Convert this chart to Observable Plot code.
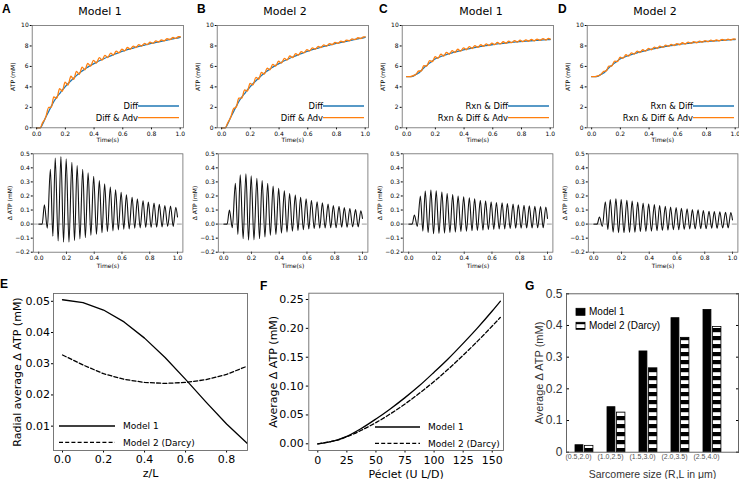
<!DOCTYPE html>
<html><head><meta charset="utf-8">
<script src="https://cdn.jsdelivr.net/npm/d3@7"></script>
<script src="https://cdn.jsdelivr.net/npm/@observablehq/plot@0.6"></script>
<style>
html,body{margin:0;padding:0;background:#fff;}
#fig{position:relative;width:739px;height:479px;overflow:hidden;background:#fff;}
#fig svg{position:absolute;}
</style></head><body><div id="fig"></div>
<script>
// ---------- DATA ----------
// shared time grid (s): start, rise, then peaks/troughs of the oscillation, end
const timeGrid = [0, 0.025, 0.041, 0.062, 0.084, 0.102, 0.119, 0.140, 0.160, 0.179, 0.198, 0.218, 0.239, 0.258, 0.277, 0.297, 0.317, 0.336, 0.356, 0.376, 0.396, 0.416, 0.437, 0.456, 0.475, 0.495, 0.516, 0.535, 0.554, 0.574, 0.594, 0.613, 0.632, 0.652, 0.673, 0.692, 0.711, 0.731, 0.752, 0.771, 0.790, 0.810, 0.831, 0.850, 0.869, 0.889, 0.909, 0.929, 0.950, 0.969, 0.988, 1.0];
// ATP (mM), diffusion only (panels A, B)
const atpDiff = [0, 0, 0.35, 1.0, 1.6, 2.1, 2.55, 3.0, 3.35, 3.7, 4.0, 4.3, 4.6, 4.85, 5.1, 5.33, 5.55, 5.75, 5.93, 6.1, 6.25, 6.4, 6.55, 6.68, 6.8, 6.92, 7.04, 7.15, 7.26, 7.36, 7.46, 7.55, 7.64, 7.72, 7.8, 7.88, 7.95, 8.02, 8.09, 8.16, 8.22, 8.28, 8.34, 8.4, 8.46, 8.52, 8.58, 8.64, 8.7, 8.75, 8.8, 8.85];
// ATP (mM), reaction & diffusion (panels C, D)
const atpRxnDiff = [5.0, 5.0, 5.02, 5.2, 5.35, 5.6, 5.85, 6.1, 6.33, 6.53, 6.72, 6.85, 6.97, 7.07, 7.16, 7.25, 7.33, 7.41, 7.48, 7.55, 7.62, 7.68, 7.74, 7.8, 7.85, 7.9, 7.95, 8.0, 8.04, 8.08, 8.12, 8.16, 8.2, 8.23, 8.26, 8.29, 8.32, 8.35, 8.38, 8.41, 8.43, 8.45, 8.47, 8.49, 8.51, 8.53, 8.55, 8.57, 8.59, 8.61, 8.62, 8.63];
// Delta ATP (mM) = with advection minus without
const dAtpA = [0, 0, 0.137, -0.03, 0.39, -0.086, 0.47, -0.12, 0.48, -0.128, 0.465, -0.128, 0.44, -0.117, 0.417, -0.105, 0.39, -0.096, 0.365, -0.08, 0.34, -0.072, 0.31, -0.062, 0.287, -0.053, 0.263, -0.048, 0.244, -0.041, 0.227, -0.036, 0.208, -0.034, 0.19, -0.03, 0.18, -0.027, 0.168, -0.024, 0.156, -0.024, 0.15, -0.022, 0.14, -0.02, 0.132, -0.017, 0.128, -0.017, 0.12, 0.05];
const dAtpB = [0, 0, 0.10, -0.026, 0.29, -0.073, 0.35, -0.104, 0.357, -0.114, 0.343, -0.112, 0.326, -0.104, 0.31, -0.092, 0.29, -0.08, 0.27, -0.073, 0.254, -0.064, 0.237, -0.057, 0.218, -0.05, 0.206, -0.045, 0.19, -0.04, 0.18, -0.035, 0.17, -0.033, 0.158, -0.03, 0.151, -0.028, 0.142, -0.026, 0.132, -0.026, 0.127, -0.023, 0.118, -0.023, 0.11, -0.02, 0.103, -0.02, 0.094, 0.04];
const dAtpC = [0, 0, 0.065, -0.016, 0.2, -0.05, 0.235, -0.06, 0.242, -0.069, 0.237, -0.066, 0.228, -0.064, 0.218, -0.06, 0.21, -0.057, 0.2, -0.052, 0.194, -0.05, 0.187, -0.047, 0.18, -0.045, 0.17, -0.043, 0.165, -0.04, 0.158, -0.038, 0.153, -0.035, 0.151, -0.034, 0.146, -0.032, 0.142, -0.03, 0.137, -0.03, 0.134, -0.028, 0.13, -0.028, 0.127, -0.026, 0.125, -0.026, 0.122, 0.04];
const dAtpD = [0, 0, 0.05, -0.016, 0.158, -0.04, 0.175, -0.057, 0.18, -0.061, 0.175, -0.061, 0.17, -0.059, 0.163, -0.057, 0.156, -0.054, 0.149, -0.052, 0.144, -0.05, 0.139, -0.047, 0.132, -0.045, 0.127, -0.043, 0.122, -0.04, 0.118, -0.04, 0.113, -0.038, 0.108, -0.035, 0.103, -0.035, 0.101, -0.033, 0.096, -0.033, 0.091, -0.03, 0.089, -0.03, 0.087, -0.028, 0.084, -0.028, 0.082, 0.03];
const timeTicks = [0, 0.2, 0.4, 0.6, 0.8, 1.0];
const atpTicks = [0, 2, 4, 6, 8, 10];
const dAtpTicks = [-0.2, -0.1, 0, 0.1, 0.2, 0.3, 0.4, 0.5];
const panelTitles = ["Model 1", "Model 2", "Model 1", "Model 2"];
const topLegend = [["Diff", "Diff & Adv"], ["Diff", "Diff & Adv"], ["Rxn & Diff", "Rxn & Diff & Adv"], ["Rxn & Diff", "Rxn & Diff & Adv"]];

// Panel E
const zL = [0, 0.1, 0.2, 0.3, 0.4, 0.5, 0.6, 0.7, 0.8, 0.9];
const eModel1 = [0.0505, 0.0496, 0.0472, 0.0434, 0.0382, 0.0320, 0.0250, 0.0177, 0.0107, 0.0045];
const eModel2 = [0.0328, 0.0296, 0.0268, 0.0250, 0.0240, 0.0237, 0.0240, 0.0249, 0.0266, 0.0292];
const zTicks = [0, 0.2, 0.4, 0.6, 0.8];
const eTicks = [0.01, 0.02, 0.03, 0.04, 0.05];

// Panel F
const peclet = [0, 10, 17, 25, 37, 50, 62, 75, 87, 100, 112, 125, 137, 150, 157];
const fModel1 = [0, 0.0035, 0.007, 0.013, 0.026, 0.043, 0.060, 0.080, 0.100, 0.124, 0.147, 0.174, 0.200, 0.230, 0.247];
const fModel2 = [0, 0.0033, 0.0065, 0.0122, 0.023, 0.0367, 0.0514, 0.069, 0.087, 0.108, 0.129, 0.1535, 0.177, 0.204, 0.219];
const pecletTicks = [0, 25, 50, 75, 100, 125, 150];
const fTicks = [0, 0.05, 0.10, 0.15, 0.20, 0.25];

// Panel G
const sizes = ["(0.5,2.0)", "(1.0,2.5)", "(1.5,3.0)", "(2.0,3.5)", "(2.5,4.0)"];
const gModel1 = [0.022, 0.142, 0.318, 0.423, 0.449];
const gModel2 = [0.020, 0.125, 0.265, 0.361, 0.395];
const gTicks = [0, 0.1, 0.2, 0.3, 0.4, 0.5];
const legendNames = ["Model 1", "Model 2 (Darcy)"];

// ---------- DRAW ----------
const fig = document.getElementById("fig");
const DJ = "'DejaVu Sans', sans-serif";
const LS = "'Liberation Sans', Arial, sans-serif";
const FRAME = "#6a6a6a";
const fmt1 = d3.format(".1f"), fmt2 = d3.format(".2f");
const style = f => `background:transparent;overflow:visible;font-family:${f};`;
function put(svg, left, top) {
  svg.style.position = "absolute";
  svg.style.left = left + "px";
  svg.style.top = top + "px";
  fig.appendChild(svg);
}

const offsets = [0, 185, 370, 555];
const atpSeries = [atpDiff, atpDiff, atpRxnDiff, atpRxnDiff];
const dSeries = [dAtpA, dAtpB, dAtpC, dAtpD];

offsets.forEach((x0, k) => {
  const rows = timeGrid.map((t, i) => ({t, base: atpSeries[k][i], adv: atpSeries[k][i] + dSeries[k][i], d: dSeries[k][i]}));
  put(Plot.plot({
    width: 184.5, height: 145, marginLeft: 31.7, marginRight: 1.5, marginTop: 25, marginBottom: 17.7,
    style: style(DJ),
    x: {domain: [-0.031, 1.023]}, y: {domain: [0, 10]},
    marks: [
      Plot.line(rows, {x: "t", y: "base", stroke: "#1f77b4", strokeWidth: 1.3, curve: "monotone-x"}),
      Plot.line(rows, {x: "t", y: "adv", stroke: "#ff7f0e", strokeWidth: 1.3, curve: "monotone-x"}),
      Plot.axisX({ticks: timeTicks, tickFormat: fmt1, tickSize: 2, tickPadding: 1.5, fontSize: 6, label: "Time(s)", labelAnchor: "center", labelOffset: 13.7, labelArrow: false}),
      Plot.axisY({ticks: atpTicks, tickSize: 2, tickPadding: 1.5, fontSize: 6, label: "ATP (mM)", labelAnchor: "center", labelOffset: 21.7, labelArrow: false}),
      Plot.frame({stroke: FRAME, strokeWidth: 0.8})
    ]
  }), x0, 0);
  put(Plot.plot({
    width: 184, height: 140, marginLeft: 32.8, marginRight: 1.6, marginTop: 13.3, marginBottom: 28.3,
    style: style(DJ),
    x: {domain: [-0.039, 1.039]}, y: {domain: [-0.2, 0.5]},
    marks: [
      Plot.ruleY([0], {stroke: "#9a9a9a", strokeWidth: 1, strokeDasharray: "5,3"}),
      Plot.line(rows, {x: "t", y: "d", stroke: "#111", strokeWidth: 1.1, curve: "monotone-x"}),
      Plot.axisX({ticks: timeTicks, tickFormat: fmt1, tickSize: 2, tickPadding: 1.5, fontSize: 6, label: "Time(s)", labelAnchor: "center", labelOffset: 15.5, labelArrow: false}),
      Plot.axisY({ticks: dAtpTicks, tickFormat: fmt1, tickSize: 2, tickPadding: 1.5, fontSize: 6, label: "Δ ATP (mM)", labelAnchor: "center", labelOffset: 25.5, labelArrow: false}),
      Plot.frame({stroke: FRAME, strokeWidth: 0.8})
    ]
  }), x0, 140);
});

// Panel E
const eRows = zL.map((z, i) => ({z, m1: eModel1[i], m2: eModel2[i]}));
put(Plot.plot({
  width: 250, height: 199, marginLeft: 53, marginRight: 3, marginTop: 13, marginBottom: 29,
  style: style(DJ),
  x: {domain: [-0.044, 0.902]}, y: {domain: [0.0022, 0.0525]},
  marks: [
    Plot.line(eRows, {x: "z", y: "m1", stroke: "#000", strokeWidth: 1.3}),
    Plot.line(eRows, {x: "z", y: "m2", stroke: "#000", strokeWidth: 1.3, strokeDasharray: "4,2.2"}),
    Plot.axisX({ticks: zTicks, tickFormat: fmt1, tickSize: 2.5, tickPadding: 2.5, fontSize: 11, label: "z/L", labelAnchor: "center", labelOffset: 26, labelArrow: false}),
    Plot.axisY({ticks: eTicks, tickFormat: fmt2, tickSize: 2, tickPadding: 1.5, fontSize: 11, label: "Radial average Δ ATP (mM)", labelAnchor: "center", labelOffset: 40, labelArrow: false}),
    Plot.frame({stroke: FRAME, strokeWidth: 0.9})
  ]
}), 0, 280);

// Panel F
const fRows1 = peclet.map((p, i) => ({p, v: fModel1[i]}));
const fRows2 = peclet.map((p, i) => ({p, v: fModel2[i]}));
put(Plot.plot({
  width: 260, height: 199, marginLeft: 63.3, marginRight: 2, marginTop: 12.7, marginBottom: 29,
  style: style(DJ),
  x: {domain: [-7.74, 159.7]}, y: {domain: [-0.0116, 0.2609]},
  marks: [
    Plot.line(fRows1, {x: "p", y: "v", stroke: "#000", strokeWidth: 1.3, curve: "monotone-x"}),
    Plot.line(fRows2, {x: "p", y: "v", stroke: "#000", strokeWidth: 1.3, strokeDasharray: "4,2.2", curve: "monotone-x"}),
    Plot.axisX({ticks: pecletTicks, tickSize: 2.5, tickPadding: 3, fontSize: 11, label: "Péclet (U L/D)", labelAnchor: "center", labelOffset: 27, labelArrow: false}),
    Plot.axisY({ticks: fTicks, tickFormat: fmt2, tickSize: 2.5, tickPadding: 2.5, fontSize: 11, label: "Average Δ ATP (mM)", labelAnchor: "center", labelOffset: 40, labelArrow: false}),
    Plot.frame({stroke: FRAME, strokeWidth: 0.9})
  ]
}), 245, 280);

// Panel G
const gRows = sizes.map((s, i) => ({s, m1: gModel1[i], m2: gModel2[i]}));
const gFmt = d => d === 0 ? "0" : d3.format(".1f")(d);
put(Plot.plot({
  width: 249, height: 199, marginLeft: 76, marginRight: 1, marginTop: 13.3, marginBottom: 27.3,
  style: style(LS),
  x: {type: "band", domain: sizes, paddingInner: 0.44, paddingOuter: 0.4075, align: 0.345, round: false},
  y: {domain: [0, 0.5]},
  marks: [
    Plot.barY(gRows, {x: "s", y: "m1", fill: "#000", stroke: "#000", strokeWidth: 0.8, insetRight: 10}),
    Plot.barY(gRows, {x: "s", y: "m2", fill: "url(#gStripes)", stroke: "#000", strokeWidth: 0.8, insetLeft: 9.5}),
    Plot.axisX({tickSize: 0, tickPadding: 2, fontSize: 7, fill: "#555", dx: -6, label: null}),
    Plot.axisX({ticks: [], label: "Sarcomere size (R,L in μm)", fontSize: 10.5, fill: "#333", labelAnchor: "center", labelOffset: 25.3, labelArrow: false}),
    Plot.axisY({ticks: gTicks, tickFormat: gFmt, tickSize: -3, tickPadding: 7, fontSize: 12, fill: "#333", label: null}),
    Plot.axisY({ticks: [], label: "Average Δ ATP (mM)", fontSize: 11, fill: "#333", labelAnchor: "center", labelOffset: 31, labelArrow: false}),
    Plot.axisY({anchor: "right", ticks: gTicks, tickSize: -3, tickFormat: () => "", label: null}),
    Plot.frame({stroke: "#555", strokeWidth: 0.9})
  ]
}), 490, 280);

// ---------- ANNOTATIONS (panel letters, titles, legends) ----------
const letters = [["A", 2, 13.3], ["B", 197, 13.3], ["C", 379, 13.3], ["D", 558, 13.3], ["E", 0, 288], ["F", 260, 290], ["G", 525, 290]];
const titleX = [100, 285, 481, 655];
let s = `<defs><pattern id="gStripes" patternUnits="userSpaceOnUse" width="8" height="8"><rect width="8" height="8" fill="#fff"/><rect width="8" height="4.2" fill="#000"/></pattern></defs>`;
letters.forEach(([t, x, y]) => { s += `<text x="${x}" y="${y}" font-family="${LS}" font-weight="bold" font-size="12">${t}</text>`; });
panelTitles.forEach((t, k) => { s += `<text x="${titleX[k]}" y="15" text-anchor="middle" font-family="${DJ}" font-size="11">${t}</text>`; });
topLegend.forEach((pair, k) => {
  const xr = offsets[k] + 183 - 4, xl = xr - 41;
  [[pair[0], 106, "#1f77b4"], [pair[1], 117.7, "#ff7f0e"]].forEach(([t, y, c]) => {
    s += `<line x1="${xl}" x2="${xr}" y1="${y}" y2="${y}" stroke="${c}" stroke-width="1.3"/>`;
    s += `<text x="${xl}" y="${y + 3}" text-anchor="end" font-family="${DJ}" font-size="8.4">${t.replace(/&/g, "&amp;")}</text>`;
  });
});
// E legend
[[426, null], [442.3, "4,2.2"]].forEach(([y, dash], i) => {
  s += `<line x1="59" x2="115" y1="${y}" y2="${y}" stroke="#000" stroke-width="1.3" ${dash ? `stroke-dasharray="${dash}"` : ""}/>`;
  s += `<text x="123" y="${y + 3.3}" font-family="${DJ}" font-size="9">${legendNames[i]}</text>`;
});
// F legend
[[427, null], [443.3, "4,2.2"]].forEach(([y, dash], i) => {
  s += `<line x1="375" x2="420" y1="${y}" y2="${y}" stroke="#000" stroke-width="1.3" ${dash ? `stroke-dasharray="${dash}"` : ""}/>`;
  s += `<text x="428" y="${y + 3.3}" font-family="${DJ}" font-size="9">${legendNames[i]}</text>`;
});
// G legend
[[308.3, "#000"], [322.3, "url(#gStripes)"]].forEach(([y, f], i) => {
  s += `<rect x="576" y="${y}" width="9" height="7" fill="${f}" stroke="#000" stroke-width="0.8"/>`;
  s += `<text x="589" y="${y + 7}" font-family="${LS}" font-size="10">${legendNames[i]}</text>`;
});
const ov = document.createElementNS("http://www.w3.org/2000/svg", "svg");
ov.setAttribute("width", 739); ov.setAttribute("height", 479);
ov.style.left = "0px"; ov.style.top = "0px"; ov.style.overflow = "visible";
ov.innerHTML = s;
fig.appendChild(ov);
</script></body></html>
